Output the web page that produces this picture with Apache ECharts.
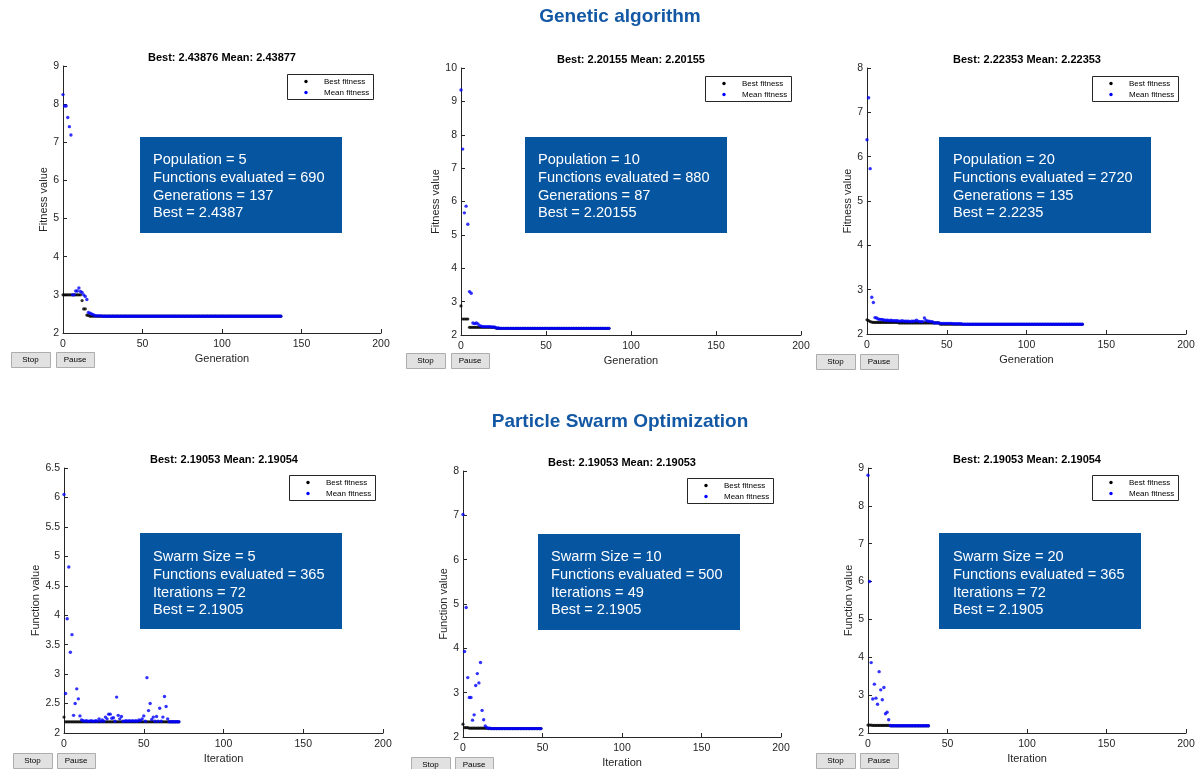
<!DOCTYPE html>
<html>
<head>
<meta charset="utf-8">
<script src="https://cdn.jsdelivr.net/npm/echarts@6/dist/echarts.min.js"></script>
<style>html,body{margin:0;padding:0;background:#fff;}#c{width:1198px;height:769px;}</style>
</head>
<body>
<div id="c"></div>
<script>
// ---------------- DATA ----------------
const X_TICKS = [0, 50, 100, 150, 200];
const SERIES_NAMES = ['Best fitness', 'Mean fitness'];
const SECTION_TITLES = ['Genetic algorithm', 'Particle Swarm Optimization'];

// GA, population 5 (generations 0..137)
const GA5_MEAN = [
8.25,7.95,7.95,7.65,7.41,7.19,3.00,3.00,3.10,3.10,
3.18,3.09,3.06,3.00,2.96,2.88,2.54,2.52,2.50,2.48,
2.46,2.45,2.45,2.45,2.45,2.44,2.44,2.44,2.44,2.44,
2.44,2.44,2.44,2.44,2.44,2.44,2.44,2.44,2.44,2.44,
2.44,2.44,2.44,2.44,2.44,2.44,2.44,2.44,2.44,2.44,
2.44,2.44,2.44,2.44,2.44,2.44,2.44,2.44,2.44,2.44,
2.44,2.44,2.44,2.44,2.44,2.44,2.44,2.44,2.44,2.44,
2.44,2.44,2.44,2.44,2.44,2.44,2.44,2.44,2.44,2.44,
2.44,2.44,2.44,2.44,2.44,2.44,2.44,2.44,2.44,2.44,
2.44,2.44,2.44,2.44,2.44,2.44,2.44,2.44,2.44,2.44,
2.44,2.44,2.44,2.44,2.44,2.44,2.44,2.44,2.44,2.44,
2.44,2.44,2.44,2.44,2.44,2.44,2.44,2.44,2.44,2.44,
2.44,2.44,2.44,2.44,2.44,2.44,2.44,2.44,2.44,2.44,
2.44,2.44,2.44,2.44,2.44,2.44,2.44,2.44
];
const GA5_BEST = [
3.00,3.00,3.00,3.00,3.00,3.00,3.00,3.00,3.00,3.00,
3.00,3.00,2.85,2.63,2.63,2.47,2.46,2.44,2.44,2.44,
2.44,2.44,2.44,2.44,2.44,2.44,2.44,2.44,2.44,2.44,
2.44,2.44,2.44,2.44,2.44,2.44,2.44,2.44,2.44,2.44,
2.44,2.44,2.44,2.44,2.44,2.44,2.44,2.44,2.44,2.44,
2.44,2.44,2.44,2.44,2.44,2.44,2.44,2.44,2.44,2.44,
2.44,2.44,2.44,2.44,2.44,2.44,2.44,2.44,2.44,2.44,
2.44,2.44,2.44,2.44,2.44,2.44,2.44,2.44,2.44,2.44,
2.44,2.44,2.44,2.44,2.44,2.44,2.44,2.44,2.44,2.44,
2.44,2.44,2.44,2.44,2.44,2.44,2.44,2.44,2.44,2.44,
2.44,2.44,2.44,2.44,2.44,2.44,2.44,2.44,2.44,2.44,
2.44,2.44,2.44,2.44,2.44,2.44,2.44,2.44,2.44,2.44,
2.44,2.44,2.44,2.44,2.44,2.44,2.44,2.44,2.44,2.44,
2.44,2.44,2.44,2.44,2.44,2.44,2.44,2.44
];

// GA, population 10 (generations 0..87)
const GA10_MEAN = [
9.34,7.57,5.66,5.86,5.32,3.30,3.25,2.36,2.34,2.36,
2.33,2.28,2.26,2.25,2.25,2.25,2.25,2.25,2.24,2.24,
2.23,2.21,2.21,2.20,2.20,2.20,2.20,2.20,2.20,2.20,
2.20,2.20,2.20,2.20,2.20,2.20,2.20,2.20,2.20,2.20,
2.20,2.20,2.20,2.20,2.20,2.20,2.20,2.20,2.20,2.20,
2.20,2.20,2.20,2.20,2.20,2.20,2.20,2.20,2.20,2.20,
2.20,2.20,2.20,2.20,2.20,2.20,2.20,2.20,2.20,2.20,
2.20,2.20,2.20,2.20,2.20,2.20,2.20,2.20,2.20,2.20,
2.20,2.20,2.20,2.20,2.20,2.20,2.20,2.20
];
const GA10_BEST = [
2.87,2.48,2.48,2.48,2.48,2.23,2.23,2.23,2.23,2.23,
2.23,2.23,2.23,2.23,2.23,2.23,2.23,2.23,2.23,2.23,
2.22,2.20,2.20,2.20,2.20,2.20,2.20,2.20,2.20,2.20,
2.20,2.20,2.20,2.20,2.20,2.20,2.20,2.20,2.20,2.20,
2.20,2.20,2.20,2.20,2.20,2.20,2.20,2.20,2.20,2.20,
2.20,2.20,2.20,2.20,2.20,2.20,2.20,2.20,2.20,2.20,
2.20,2.20,2.20,2.20,2.20,2.20,2.20,2.20,2.20,2.20,
2.20,2.20,2.20,2.20,2.20,2.20,2.20,2.20,2.20,2.20,
2.20,2.20,2.20,2.20,2.20,2.20,2.20,2.20
];

// GA, population 20 (generations 0..135)
const GA20_MEAN = [
6.38,7.33,5.73,2.83,2.71,2.37,2.36,2.34,2.33,2.33,
2.32,2.31,2.31,2.31,2.30,2.31,2.30,2.30,2.30,2.30,
2.29,2.29,2.30,2.29,2.29,2.29,2.29,2.28,2.29,2.29,
2.29,2.31,2.29,2.28,2.28,2.28,2.36,2.31,2.29,2.29,
2.28,2.28,2.25,2.25,2.25,2.25,2.24,2.24,2.24,2.24,
2.24,2.24,2.24,2.24,2.23,2.23,2.23,2.23,2.23,2.23,
2.22,2.22,2.22,2.22,2.22,2.22,2.22,2.22,2.22,2.22,
2.22,2.22,2.22,2.22,2.22,2.22,2.22,2.22,2.22,2.22,
2.22,2.22,2.22,2.22,2.22,2.22,2.22,2.22,2.22,2.22,
2.22,2.22,2.22,2.22,2.22,2.22,2.22,2.22,2.22,2.22,
2.22,2.22,2.22,2.22,2.22,2.22,2.22,2.22,2.22,2.22,
2.22,2.22,2.22,2.22,2.22,2.22,2.22,2.22,2.22,2.22,
2.22,2.22,2.22,2.22,2.22,2.22,2.22,2.22,2.22,2.22,
2.22,2.22,2.22,2.22,2.22,2.22
];
const GA20_BEST = [
2.32,2.30,2.28,2.27,2.26,2.26,2.26,2.26,2.26,2.26,
2.26,2.26,2.26,2.26,2.26,2.26,2.26,2.26,2.26,2.26,
2.25,2.25,2.25,2.25,2.25,2.25,2.25,2.25,2.25,2.25,
2.25,2.25,2.25,2.25,2.25,2.25,2.25,2.25,2.25,2.25,
2.25,2.25,2.25,2.25,2.25,2.25,2.22,2.22,2.22,2.22,
2.22,2.22,2.22,2.22,2.22,2.22,2.22,2.22,2.22,2.22,
2.22,2.22,2.22,2.22,2.22,2.22,2.22,2.22,2.22,2.22,
2.22,2.22,2.22,2.22,2.22,2.22,2.22,2.22,2.22,2.22,
2.22,2.22,2.22,2.22,2.22,2.22,2.22,2.22,2.22,2.22,
2.22,2.22,2.22,2.22,2.22,2.22,2.22,2.22,2.22,2.22,
2.22,2.22,2.22,2.22,2.22,2.22,2.22,2.22,2.22,2.22,
2.22,2.22,2.22,2.22,2.22,2.22,2.22,2.22,2.22,2.22,
2.22,2.22,2.22,2.22,2.22,2.22,2.22,2.22,2.22,2.22,
2.22,2.22,2.22,2.22,2.22,2.22
];

// PSO, swarm size 5 (iterations 0..72)
const PSO5_MEAN = [
6.05,2.67,3.94,4.82,3.37,3.67,2.30,2.50,2.75,2.58,
2.29,2.22,2.21,2.20,2.21,2.20,2.20,2.21,2.20,2.20,
2.21,2.20,2.24,2.20,2.22,2.20,2.27,2.24,2.32,2.32,
2.25,2.26,2.20,2.61,2.30,2.24,2.28,2.20,2.20,2.21,
2.20,2.21,2.20,2.21,2.20,2.21,2.20,2.22,2.21,2.24,
2.29,2.20,2.94,2.38,2.50,2.23,2.27,2.20,2.28,2.20,
2.42,2.20,2.27,2.62,2.45,2.24,2.19,2.19,2.19,2.19,
2.19,2.19,2.19
];
const PSO5_BEST = [
2.27,2.19,2.19,2.19,2.19,2.19,2.19,2.19,2.19,2.19,
2.19,2.19,2.19,2.19,2.19,2.19,2.19,2.19,2.19,2.19,
2.19,2.19,2.19,2.19,2.19,2.19,2.19,2.19,2.19,2.19,
2.19,2.19,2.19,2.19,2.19,2.19,2.19,2.19,2.19,2.19,
2.19,2.19,2.19,2.19,2.19,2.19,2.19,2.19,2.19,2.19,
2.19,2.19,2.19,2.19,2.19,2.19,2.19,2.19,2.19,2.19,
2.19,2.19,2.19,2.19,2.19,2.19,2.19,2.19,2.19,2.19,
2.19,2.19,2.19
];

// PSO, swarm size 10 (iterations 0..49)
const PSO10_MEAN = [
7.02,3.93,4.92,3.34,2.89,2.89,2.38,2.50,3.16,3.43,
3.22,3.68,2.60,2.39,2.25,2.21,2.20,2.20,2.19,2.19,
2.19,2.19,2.19,2.19,2.19,2.19,2.19,2.19,2.19,2.19,
2.19,2.19,2.19,2.19,2.19,2.19,2.19,2.19,2.19,2.19,
2.19,2.19,2.19,2.19,2.19,2.19,2.19,2.19,2.19,2.19
];
const PSO10_BEST = [
2.29,2.21,2.21,2.21,2.20,2.20,2.20,2.20,2.20,2.20,
2.20,2.20,2.20,2.20,2.20,2.20,2.19,2.19,2.19,2.19,
2.19,2.19,2.19,2.19,2.19,2.19,2.19,2.19,2.19,2.19,
2.19,2.19,2.19,2.19,2.19,2.19,2.19,2.19,2.19,2.19,
2.19,2.19,2.19,2.19,2.19,2.19,2.19,2.19,2.19,2.19
];

// PSO, swarm size 20 (iterations 0..38)
const PSO20_MEAN = [
8.81,6.00,3.86,2.90,3.29,2.92,2.76,3.62,3.14,2.88,
3.20,2.51,2.55,2.35,2.20,2.19,2.19,2.19,2.19,2.19,
2.19,2.19,2.19,2.19,2.19,2.19,2.19,2.19,2.19,2.19,
2.19,2.19,2.19,2.19,2.19,2.19,2.19,2.19,2.19
];
const PSO20_BEST = [
2.21,2.21,2.21,2.20,2.20,2.20,2.20,2.20,2.20,2.20,
2.20,2.20,2.20,2.20,2.19,2.19,2.19,2.19,2.19,2.19,
2.19,2.19,2.19,2.19,2.19,2.19,2.19,2.19,2.19,2.19,
2.19,2.19,2.19,2.19,2.19,2.19,2.19,2.19,2.19
];

const PLOT_TITLES = [
  'Best: 2.43876 Mean: 2.43877',
  'Best: 2.20155 Mean: 2.20155',
  'Best: 2.22353 Mean: 2.22353',
  'Best: 2.19053 Mean: 2.19054',
  'Best: 2.19053 Mean: 2.19053',
  'Best: 2.19053 Mean: 2.19054'
];
const INFO_TEXTS = [
  ['Population = 5', 'Functions evaluated = 690', 'Generations = 137', 'Best = 2.4387'],
  ['Population = 10', 'Functions evaluated = 880', 'Generations = 87', 'Best = 2.20155'],
  ['Population = 20', 'Functions evaluated = 2720', 'Generations = 135', 'Best = 2.2235'],
  ['Swarm Size = 5', 'Functions evaluated = 365', 'Iterations = 72', 'Best = 2.1905'],
  ['Swarm Size = 10', 'Functions evaluated = 500', 'Iterations = 49', 'Best = 2.1905'],
  ['Swarm Size = 20', 'Functions evaluated = 365', 'Iterations = 72', 'Best = 2.1905']
];
const X_NAMES = ['Generation', 'Generation', 'Generation', 'Iteration', 'Iteration', 'Iteration'];
const Y_NAMES = ['Fitness value', 'Fitness value', 'Fitness value', 'Function value', 'Function value', 'Function value'];
const Y_MAX = [9, 10, 8, 6.5, 8, 9];
const Y_STEP = [1, 1, 1, 0.5, 1, 1];
const BEST_DATA = [GA5_BEST, GA10_BEST, GA20_BEST, PSO5_BEST, PSO10_BEST, PSO20_BEST];
const MEAN_DATA = [GA5_MEAN, GA10_MEAN, GA20_MEAN, PSO5_MEAN, PSO10_MEAN, PSO20_MEAN];

// ---------------- LAYOUT ----------------
const FONT = "'Liberation Sans', Arial, Helvetica, sans-serif";
const INK = '#262626';
const BLUE_BOX = '#0555a1';
const SERIES_COLORS = ['#000000', '#0000ff'];
const LAYOUT = [
  {grid:{left:63, top:66, width:318, height:267}, yGap:13, titleX:222, titleY:52, box:[140,137,202,96], text:[153,151.5], legend:[287,74], stop:[11,352], pause:[56,352]},
  {grid:{left:461, top:68, width:340, height:267}, yGap:20, titleX:631, titleY:54.5, box:[525,137,202,96], text:[538,151.5], legend:[705,76], stop:[406,353], pause:[451,353]},
  {grid:{left:867, top:68, width:319, height:266}, yGap:13, titleX:1027, titleY:54.5, box:[939,137,212,96], text:[953,151.5], legend:[1092,76], stop:[816,354], pause:[860,354]},
  {grid:{left:64, top:468, width:319, height:265}, yGap:21, titleX:224, titleY:454.5, box:[140,533,202,96], text:[153,548.5], legend:[289,475], stop:[13,753], pause:[57,753]},
  {grid:{left:463, top:471, width:318, height:266}, yGap:14, titleX:622, titleY:457, box:[538,534,202,96], text:[551,548.5], legend:[687,478], stop:[411,757], pause:[455,757]},
  {grid:{left:868, top:468, width:318, height:265}, yGap:14, titleX:1027, titleY:454, box:[939,533,202,96], text:[953,548.5], legend:[1092,475], stop:[816,753], pause:[860,753]}
];

const pairs = a => a.map((v, i) => [i, v]);

const grids = [], xAxes = [], yAxes = [], series = [], graphics = [];
const titles = [
  {text: SECTION_TITLES[0], left: 620, top: 7, textAlign: 'center', padding: 0,
   textStyle: {fontSize: 19, fontWeight: 'bold', color: '#1358a4', fontFamily: FONT}},
  {text: SECTION_TITLES[1], left: 620, top: 412, textAlign: 'center', padding: 0,
   textStyle: {fontSize: 19, fontWeight: 'bold', color: '#1358a4', fontFamily: FONT}}
];

LAYOUT.forEach((L, i) => {
  grids.push(Object.assign({containLabel: false}, L.grid));
  xAxes.push({
    gridIndex: i, type: 'value', min: X_TICKS[0], max: X_TICKS[X_TICKS.length - 1], interval: 50,
    name: X_NAMES[i], nameLocation: 'middle', nameGap: 20,
    nameTextStyle: {fontSize: 11, color: INK, fontFamily: FONT},
    axisLine: {show: true, onZero: false, lineStyle: {color: INK, width: 1}},
    axisTick: {show: true, inside: true, length: 4, lineStyle: {color: INK}},
    axisLabel: {fontSize: 10.5, color: INK, margin: 6, fontFamily: FONT},
    splitLine: {show: false}
  });
  yAxes.push({
    gridIndex: i, type: 'value', min: 2, max: Y_MAX[i], interval: Y_STEP[i],
    name: Y_NAMES[i], nameLocation: 'middle', nameGap: L.yGap,
    nameTextStyle: {fontSize: 11, color: INK, fontFamily: FONT},
    axisLine: {show: true, onZero: false, lineStyle: {color: INK, width: 1}},
    axisTick: {show: true, inside: true, length: 4, lineStyle: {color: INK}},
    axisLabel: {fontSize: 10.5, color: INK, margin: 4, fontFamily: FONT},
    splitLine: {show: false}
  });
  series.push({
    name: SERIES_NAMES[0], type: 'scatter', xAxisIndex: i, yAxisIndex: i,
    data: pairs(BEST_DATA[i]), symbol: 'circle', symbolSize: 3.2,
    itemStyle: {color: SERIES_COLORS[0]}, z: 2
  });
  series.push({
    name: SERIES_NAMES[1], type: 'scatter', xAxisIndex: i, yAxisIndex: i,
    data: pairs(MEAN_DATA[i]), symbol: 'circle', symbolSize: 3.4,
    itemStyle: {color: SERIES_COLORS[1]}, z: 3
  });
  titles.push({
    text: PLOT_TITLES[i], left: L.titleX, top: L.titleY, textAlign: 'center', padding: 0,
    textStyle: {fontSize: 11, fontWeight: 'bold', color: '#000', fontFamily: FONT}
  });
  // legend box (MATLAB style)
  const [lx, ly] = L.legend;
  graphics.push({type: 'rect', shape: {x: lx + 0.5, y: ly + 0.5, width: 86, height: 25},
    style: {fill: '#fff', stroke: INK, lineWidth: 1}, z: 10});
  SERIES_NAMES.forEach((nm, k) => {
    const cy = ly + 7.5 + 11 * k;
    graphics.push({type: 'circle', shape: {cx: lx + 19, cy: cy, r: 1.7},
      style: {fill: SERIES_COLORS[k]}, z: 11});
    graphics.push({type: 'text', x: lx + 37, y: cy, z: 11,
      style: {text: nm, fill: '#000', fontSize: 8, fontFamily: FONT, align: 'left', verticalAlign: 'middle'}});
  });
  // info box
  const [bx, by, bw, bh] = L.box;
  graphics.push({type: 'rect', shape: {x: bx, y: by, width: bw, height: bh}, style: {fill: BLUE_BOX}, z: 10});
  graphics.push({type: 'text', x: L.text[0], y: L.text[1], z: 11,
    style: {text: INFO_TEXTS[i].join('\n'), fill: '#fff', fontSize: 14.6, fontFamily: FONT,
            lineHeight: 17.6, verticalAlign: 'top', align: 'left'}});
  // buttons
  [[L.stop, 'Stop', 39], [L.pause, 'Pause', 38]].forEach(([p, label, w]) => {
    graphics.push({type: 'rect', shape: {x: p[0] + 0.5, y: p[1] + 0.5, width: w, height: 15},
      style: {fill: '#e1e1e1', stroke: '#adadad', lineWidth: 1}, z: 10});
    graphics.push({type: 'text', x: p[0] + w / 2, y: p[1] + 8, z: 11,
      style: {text: label, fill: '#000', fontSize: 8, fontFamily: FONT, align: 'center', verticalAlign: 'middle'}});
  });
});

const chart = echarts.init(document.getElementById('c'), null, {renderer: 'canvas'});
chart.setOption({
  animation: false,
  backgroundColor: '#ffffff',
  title: titles,
  grid: grids,
  xAxis: xAxes,
  yAxis: yAxes,
  series: series,
  graphic: {elements: graphics}
});
</script>
</body>
</html>
